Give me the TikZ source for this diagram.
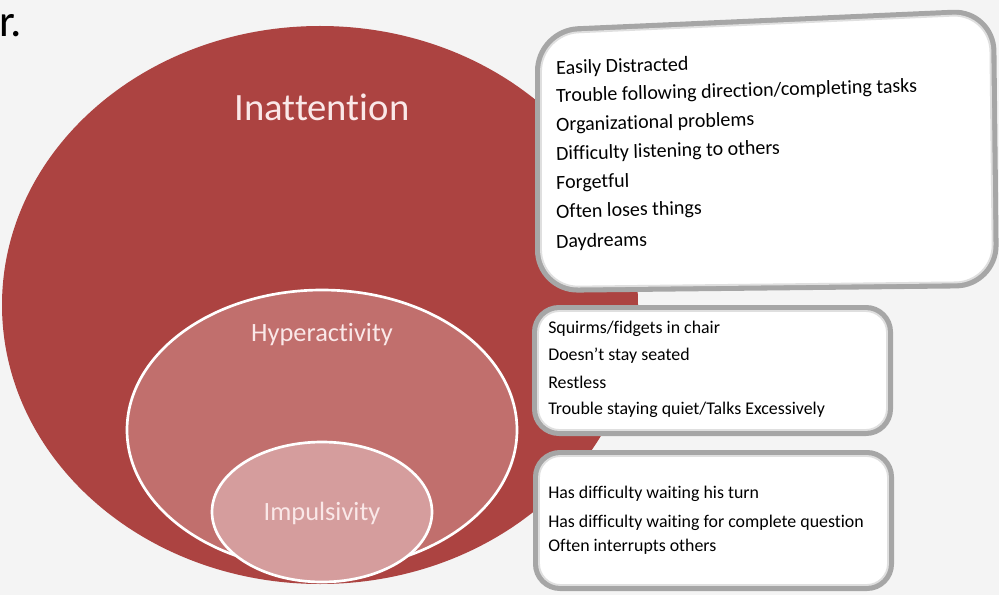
\documentclass[tikz,border=0pt]{standalone}
\usepackage{fontspec}
\setmainfont{Carlito}[Ligatures=NoCommon]
\definecolor{bgc}{RGB}{244,244,244}
\definecolor{redA}{RGB}{172,67,65}
\definecolor{redB}{RGB}{193,111,109}
\definecolor{redC}{RGB}{213,157,157}
\definecolor{pinktxt}{RGB}{250,232,232}
\tikzset{
  boxouter/.style={draw=gray!70, line width=4.5, fill=white},
  boxinner/.style={draw=gray!25, line width=1.4},
  biglabel/.style={text=pinktxt, font=\fontsize{29}{32}\selectfont},
  midlabel/.style={text=pinktxt, font=\fontsize{19.8}{22}\selectfont},
  itemA/.style={anchor=west, inner sep=0pt, font=\fontsize{15}{17}\selectfont, rotate=1.6},
  itemB/.style={anchor=west, inner sep=0pt, font=\fontsize{13.4}{15}\selectfont},
  ringline/.style={draw=white, line width=2}
}
\begin{document}
\begin{tikzpicture}[x=0.75pt,y=-0.75pt]
\useasboundingbox (0,0) rectangle (999,595);
\fill[bgc] (0,0) rectangle (999,595);
% title fragment
\node[anchor=west, inner sep=0pt, font=\fontsize{34}{38}\selectfont] (rr) at (-1,26) {r.};
% ellipses
\fill[redA] (320,305) ellipse [x radius=318, y radius=279];
\filldraw[fill=redB, ringline] (322,430) ellipse [x radius=195, y radius=140];
\filldraw[fill=redC, ringline] (322,512) ellipse [x radius=110, y radius=70];
\node[biglabel] (inatt) at (322,107) {Inattention};
\node[midlabel] (hyper) at (322,335) {Hyperactivity};
\node[midlabel] (impul) at (322,513) {Impulsivity};
% box 1
\draw[boxouter, rounded corners=30] (538,31) -- (993,11) -- (996,285) -- (538,290) -- cycle;
\draw[boxinner, rounded corners=28] (541,34) -- (990,14) -- (993,282) -- (541,287) -- cycle;
\node[itemA] (a1) at (556,69) {Easily Distracted};
\node[itemA] (a2) at (556,97) {Trouble following direction/completing tasks};
\node[itemA] (a3) at (556,126) {Organizational problems};
\node[itemA] (a4) at (556,155) {Difficulty listening to others};
\node[itemA] (a5) at (556,184) {Forgetful};
\node[itemA] (a6) at (556,213) {Often loses things};
\node[itemA] (a7) at (556,243) {Daydreams};
% box 2
\draw[boxouter, rounded corners=18] (535,308) rectangle (890,433);
\draw[boxinner, rounded corners=16] (538,311) rectangle (887,430);
\node[itemB] (b1) at (548,329) {Squirms/fidgets in chair};
\node[itemB] (b2) at (548,356) {Doesn't stay seated};
\node[itemB] (b3) at (548,382) {Restless};
\node[itemB] (b4) at (548,410) {Trouble staying quiet/Talks Excessively};
% box 3
\draw[boxouter, rounded corners=18] (536,453) rectangle (891,588);
\draw[boxinner, rounded corners=16] (539,456) rectangle (888,585);
\node[itemB] (c1) at (548,494) {Has difficulty waiting his turn};
\node[itemB] (c2) at (548,523) {Has difficulty waiting for complete question};
\node[itemB] (c3) at (548,547) {Often interrupts others};
\end{tikzpicture}
\end{document}
